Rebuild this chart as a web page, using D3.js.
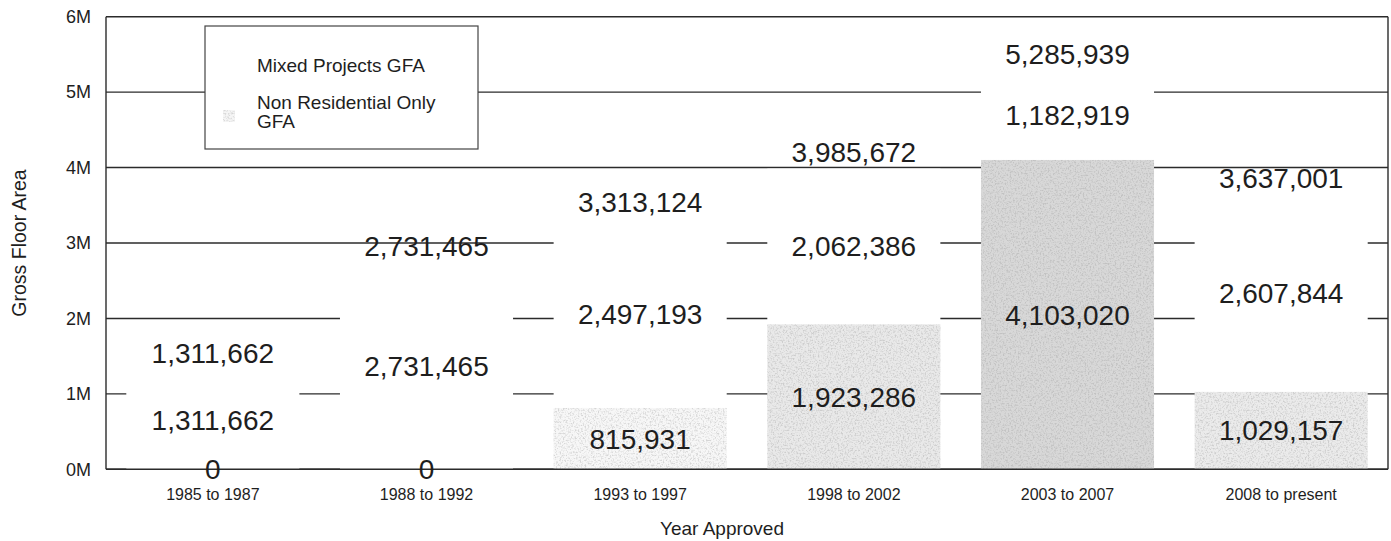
<!DOCTYPE html>
<html>
<head>
<meta charset="utf-8">
<script src="https://cdn.jsdelivr.net/npm/d3@7"></script>
<style>
  html, body { margin: 0; padding: 0; background: #fff; }
  svg { display: block; font-family: "Liberation Sans", Arial, sans-serif; }
</style>
</head>
<body>
<svg id="chart" width="1391" height="541"></svg>
<script>
// ---- data ----
const categories = ["1985 to 1987", "1988 to 1992", "1993 to 1997", "1998 to 2002", "2003 to 2007", "2008 to present"];
const nonResidential = [0, 0, 815931, 1923286, 4103020, 1029157];
const mixedProjects = [1311662, 2731465, 2497193, 2062386, 1182919, 2607844];
const totals = [1311662, 2731465, 3313124, 3985672, 5285939, 3637001];
const yTickValues = [0, 1000000, 2000000, 3000000, 4000000, 5000000, 6000000];
const seriesNames = ["Mixed Projects GFA", "Non Residential Only GFA"];

// ---- style (scan shading of the grey bars, per category) ----
const greyShade = ["#ececec", "#ececec", "#f7f7f7", "#e9e9e9", "#d8d8d8", "#ebebeb"];

(function () {
const svg = d3.select("#chart");
const plotL = 106, plotR = 1388, plotT = 16.7, plotB = 469.3;
const lineColor = "#2b2b2b";
const textColor = "#1e1e1e";

const x = d3.scaleBand().domain(categories).range([plotL, plotR]).paddingInner(0.19).paddingOuter(0.095);
const y = d3.scaleLinear().domain([0, 6000000]).range([plotB, plotT]);

// grain texture filter for the grey bars
const defs = svg.append("defs");
const f = defs.append("filter").attr("id", "grain")
  .attr("x", 0).attr("y", 0).attr("width", 1).attr("height", 1);
f.append("feTurbulence").attr("type", "fractalNoise").attr("baseFrequency", 0.6)
  .attr("numOctaves", 3).attr("seed", 11).attr("result", "t");
f.append("feColorMatrix").attr("in", "t").attr("type", "matrix")
  .attr("values", "0 0 0 0 0.35  0 0 0 0 0.35  0 0 0 0 0.35  0 0 0 -3.2 1.75")
  .attr("result", "dots");
f.append("feComposite").attr("in", "dots").attr("in2", "SourceGraphic").attr("operator", "in").attr("result", "d2");
f.append("feComponentTransfer").attr("in", "d2").attr("result", "d3")
  .append("feFuncA").attr("type", "linear").attr("slope", 0.45);
const m = f.append("feMerge");
m.append("feMergeNode").attr("in", "SourceGraphic");
m.append("feMergeNode").attr("in", "d3");

// gridlines
svg.append("g").selectAll("line").data(yTickValues).join("line")
  .attr("x1", plotL).attr("x2", plotR)
  .attr("y1", d => y(d)).attr("y2", d => y(d))
  .attr("stroke", lineColor).attr("stroke-width", 1.4);

// stacked bars
const rows = categories.map((c, i) => ({ cat: c, idx: i, nonres: nonResidential[i], mixed: mixedProjects[i] }));
const stack = d3.stack().keys(["nonres", "mixed"])(rows);

stack.forEach(layer => {
  svg.append("g").selectAll("rect").data(layer).join("rect")
    .attr("x", d => x(d.data.cat))
    .attr("width", x.bandwidth())
    .attr("y", d => y(d[1]))
    .attr("height", d => Math.max(0, y(d[0]) - y(d[1])))
    .attr("fill", d => layer.key === "nonres" ? greyShade[d.data.idx] : "#ffffff")
    .attr("filter", layer.key === "nonres" ? "url(#grain)" : null);
});

// frame: left axis, right border, bottom axis
svg.append("line").attr("x1", plotL).attr("x2", plotL).attr("y1", plotT).attr("y2", plotB)
  .attr("stroke", lineColor).attr("stroke-width", 1.4);
svg.append("line").attr("x1", plotR).attr("x2", plotR).attr("y1", plotT).attr("y2", plotB)
  .attr("stroke", lineColor).attr("stroke-width", 1.4);
svg.append("line").attr("x1", plotL).attr("x2", plotR).attr("y1", plotB).attr("y2", plotB)
  .attr("stroke", lineColor).attr("stroke-width", 1.4);

// y axis labels
const yAxis = d3.axisLeft(y).tickValues(yTickValues).tickSize(0).tickPadding(15)
  .tickFormat(d => (d / 1000000) + "M");
const ya = svg.append("g").attr("transform", `translate(${plotL},0)`).call(yAxis);
ya.select(".domain").remove();
ya.selectAll("text").attr("font-size", 18).attr("fill", textColor)
  .attr("font-family", "Liberation Sans, Arial, sans-serif");

// x axis labels
const xAxis = d3.axisBottom(x).tickSize(0).tickPadding(19.5);
const xa = svg.append("g").attr("transform", `translate(0,${plotB})`).call(xAxis);
xa.select(".domain").remove();
xa.selectAll("text").attr("font-size", 16).attr("fill", textColor)
  .attr("font-family", "Liberation Sans, Arial, sans-serif");

const fmt = d3.format(",");
const labelSize = 28;

// segment labels (centered in each segment)
stack.forEach(layer => {
  svg.append("g").selectAll("text").data(layer).join("text")
    .attr("x", d => x(d.data.cat) + x.bandwidth() / 2)
    .attr("y", d => (y(d[0]) + y(d[1])) / 2 + 10)
    .attr("text-anchor", "middle")
    .attr("font-size", labelSize)
    .attr("fill", textColor)
    .text(d => fmt(d[1] - d[0]));
});

// total labels above each bar
svg.append("g").selectAll("text").data(categories).join("text")
  .attr("x", (c) => x(c) + x.bandwidth() / 2)
  .attr("y", (c, i) => y(totals[i]) - 7)
  .attr("text-anchor", "middle")
  .attr("font-size", labelSize)
  .attr("fill", textColor)
  .text((c, i) => fmt(totals[i]));

// axis titles
svg.append("text").attr("x", 722).attr("y", 535).attr("text-anchor", "middle")
  .attr("font-size", 19).attr("fill", textColor).text("Year Approved");
svg.append("text").attr("transform", "translate(26,243) rotate(-90)").attr("text-anchor", "middle")
  .attr("font-size", 19.5).attr("fill", textColor).text("Gross Floor Area");

// legend
const lg = svg.append("g");
lg.append("rect").attr("x", 205).attr("y", 26).attr("width", 273).attr("height", 123)
  .attr("fill", "#fff").attr("stroke", "#444").attr("stroke-width", 1.2);
lg.append("rect").attr("x", 223).attr("y", 61).attr("width", 12).attr("height", 12).attr("fill", "#ffffff");
lg.append("rect").attr("x", 223).attr("y", 110).attr("width", 12).attr("height", 12)
  .attr("fill", "#f5f5f5").attr("filter", "url(#grain)");
lg.append("text").attr("x", 257).attr("y", 72).attr("font-size", 19).attr("fill", textColor).text(seriesNames[0]);
const t2 = lg.append("text").attr("x", 257).attr("y", 109).attr("font-size", 19).attr("fill", textColor);
t2.append("tspan").attr("x", 257).attr("y", 109).text("Non Residential Only");
t2.append("tspan").attr("x", 257).attr("y", 128).text("GFA");
})();
</script>
</body>
</html>
